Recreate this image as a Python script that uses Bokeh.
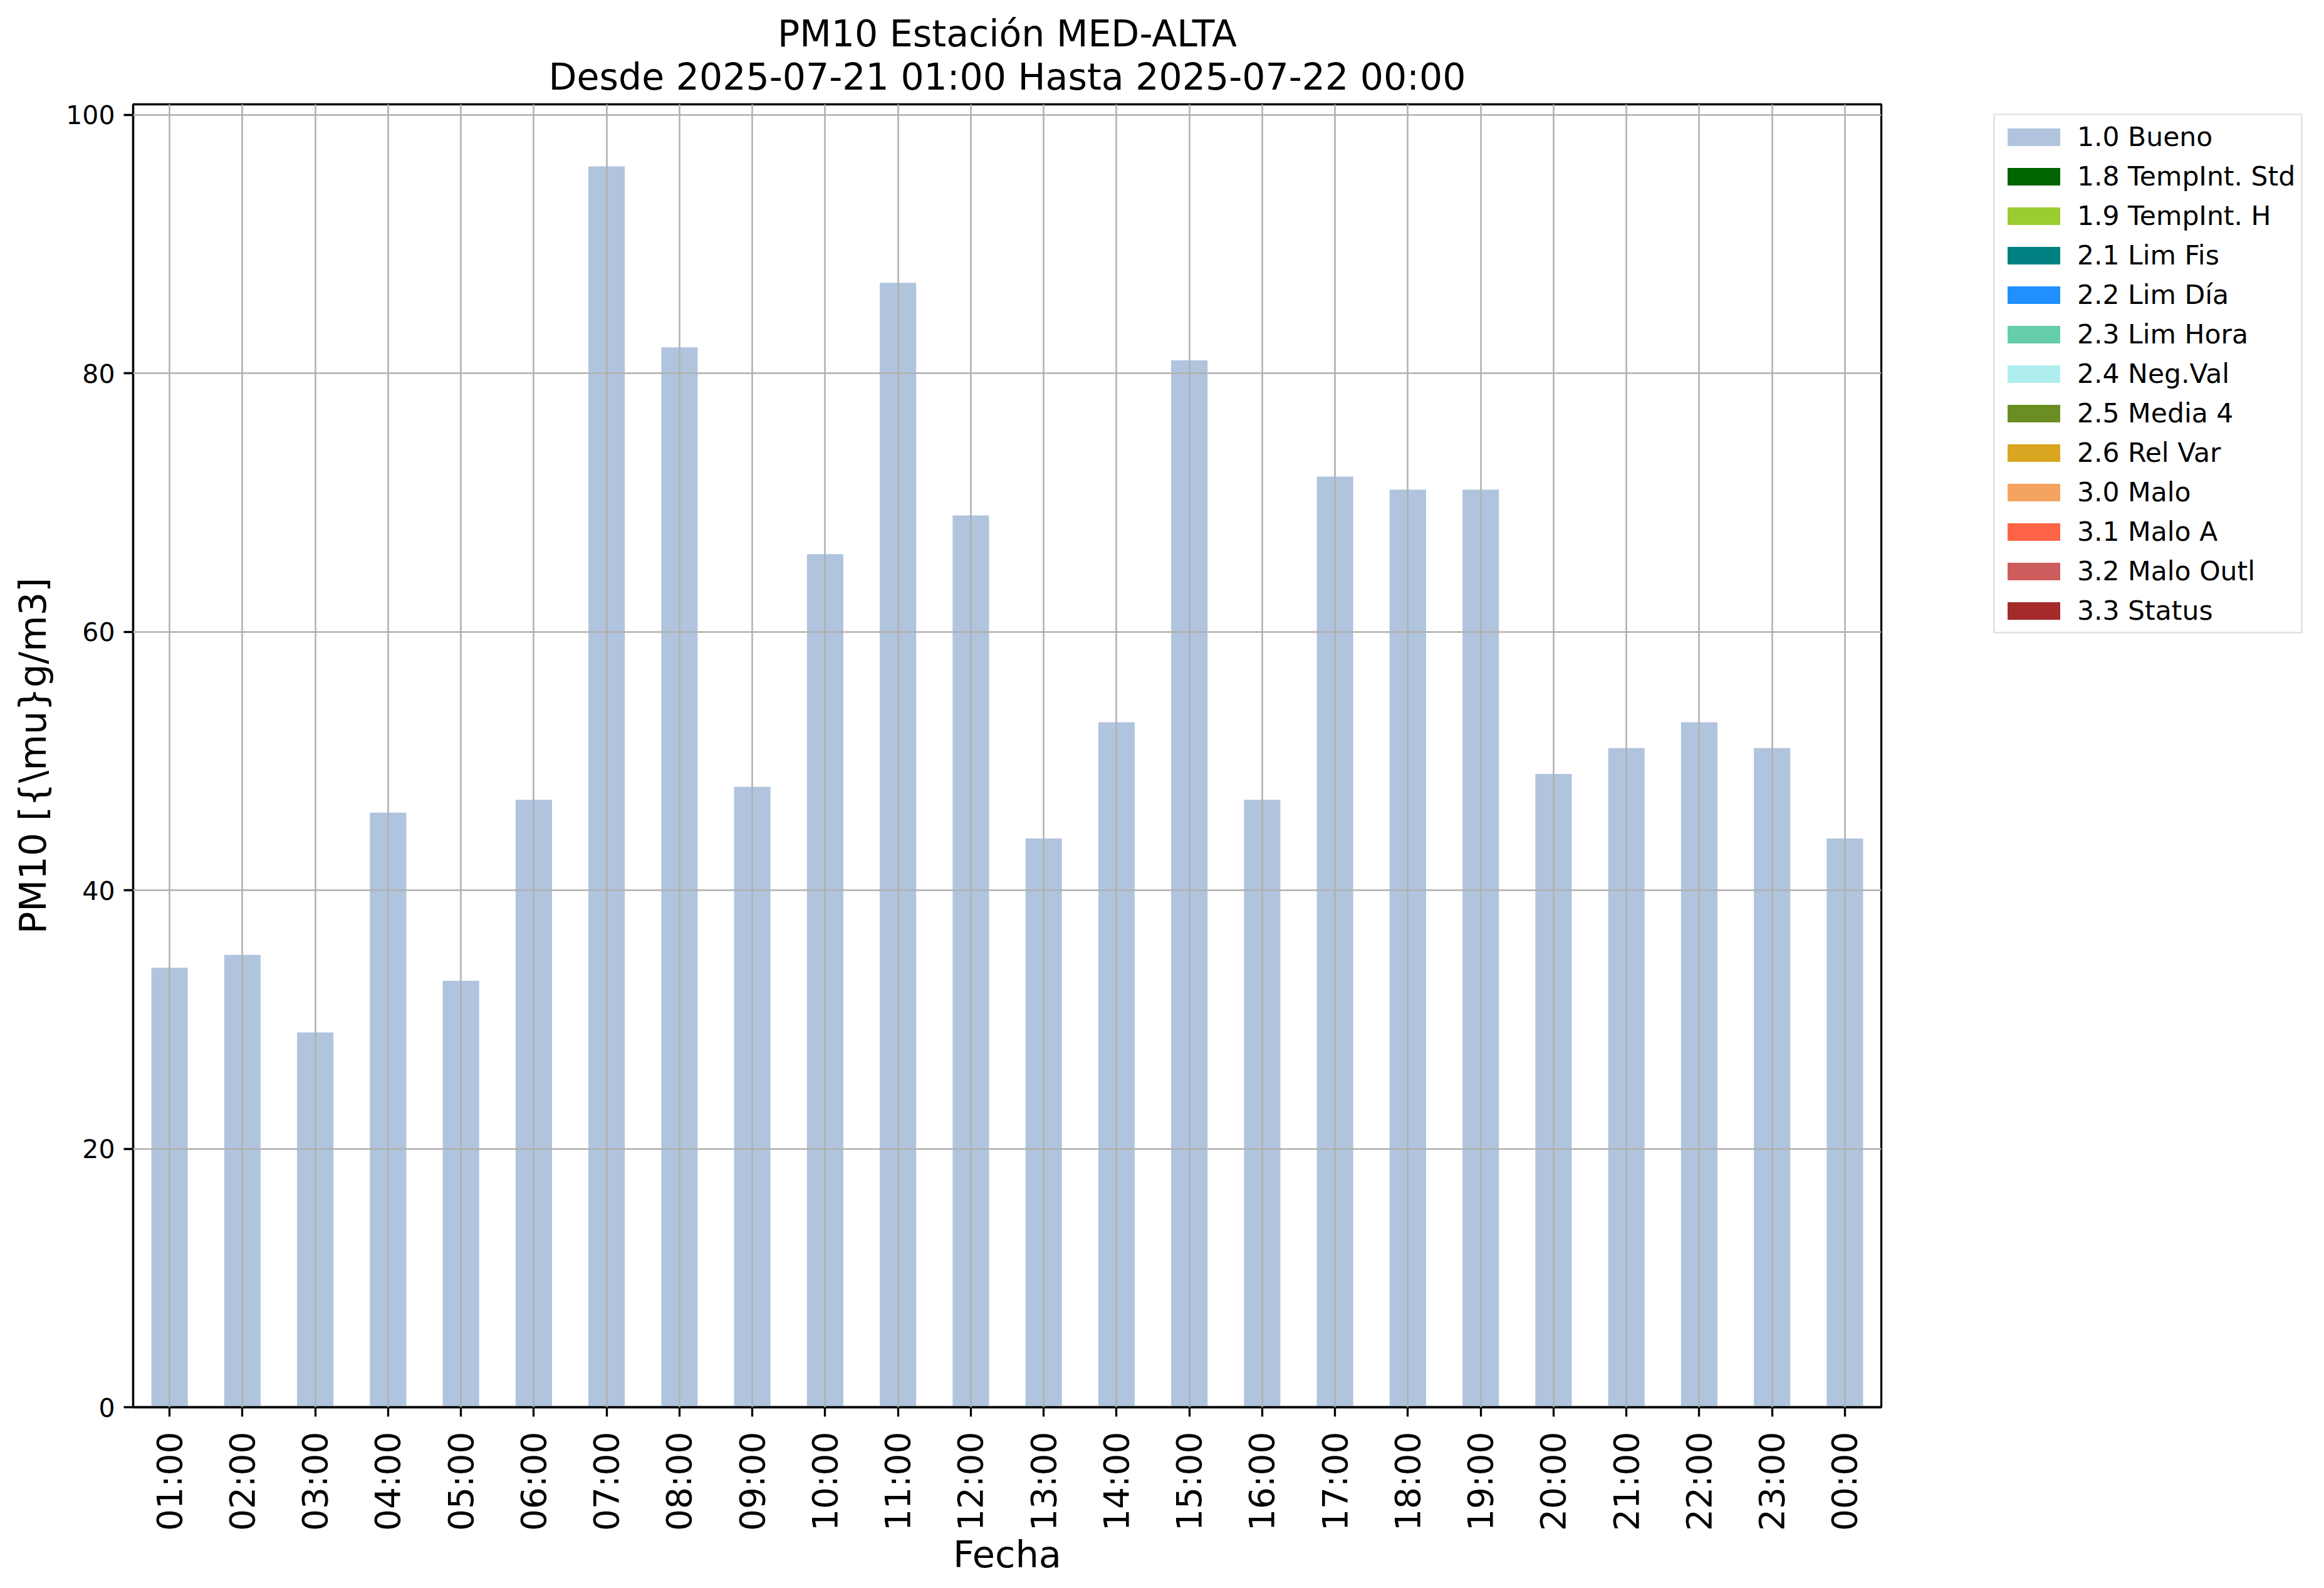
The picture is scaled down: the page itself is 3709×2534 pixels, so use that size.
from bokeh.plotting import figure
from bokeh.layouts import row
from bokeh.models import Range1d, FactorRange, FixedTicker, Legend, LegendItem, ColumnDataSource, Title
from bokeh.embed import file_html
from bokeh.resources import INLINE
import math

hours = ["01:00", "02:00", "03:00", "04:00", "05:00", "06:00", "07:00", "08:00",
         "09:00", "10:00", "11:00", "12:00", "13:00", "14:00", "15:00", "16:00",
         "17:00", "18:00", "19:00", "20:00", "21:00", "22:00", "23:00", "00:00"]
pm10_bueno = [34, 35, 29, 46, 33, 47, 96, 82, 48, 66, 87, 69,
              44, 53, 81, 47, 72, 71, 71, 49, 51, 53, 51, 44]
categories = ["1.0 Bueno", "1.8 TempInt. Std", "1.9 TempInt. H", "2.1 Lim Fis",
              "2.2 Lim Día", "2.3 Lim Hora", "2.4 Neg.Val", "2.5 Media 4",
              "2.6 Rel Var", "3.0 Malo", "3.1 Malo A", "3.2 Malo Outl", "3.3 Status"]
colors = ["#b0c4de", "#006400", "#9acd32", "#008080", "#1e90ff", "#66cdaa",
          "#afeeee", "#6b8e23", "#daa520", "#f4a460", "#ff6347", "#cd5c5c", "#a52a2a"]
y_ticks = [0, 20, 40, 60, 80, 100]
title_line1 = "PM10 Estación MED-ALTA"
title_line2 = "Desde 2025-07-21 01:00 Hasta 2025-07-22 00:00"

FONT = "DejaVu Sans"

data = {"hour": hours}
keys = []
for i, c in enumerate(categories):
    k = "s%d" % i
    keys.append(k)
    data[k] = pm10_bueno if i == 0 else [0] * len(hours)
source = ColumnDataSource(data)

# ---- main chart ----
p = figure(x_range=FactorRange(factors=hours, range_padding=0),
           y_range=Range1d(0, max(pm10_bueno) * 1.05),
           width=3012, height=2518, output_backend="svg", toolbar_location=None,
           title=None,
           min_border_left=212, min_border_right=10, min_border_top=166, min_border_bottom=273)
p.background_fill_color = "white"
p.border_fill_color = "white"
p.outline_line_color = "black"
p.outline_line_width = 3.3

for txt, so in ((title_line2, 19), (title_line1, -21)):
    t = Title(text=txt, align="center", text_font=FONT, text_font_size="58.5px",
              text_font_style="normal", text_color="black", standoff=so)
    p.add_layout(t, "above")

p.vbar_stack(keys, x="hour", width=0.5, color=colors, line_color=None, source=source)

for ax in (p.xaxis[0], p.yaxis[0]):
    ax.axis_line_color = "black"
    ax.axis_line_width = 3.3
    ax.major_tick_in = 0
    ax.major_tick_out = 15
    ax.major_tick_line_width = 3.3
    ax.major_tick_line_color = "black"
    ax.minor_tick_line_color = None
    ax.major_label_text_font = FONT
    ax.axis_label_text_font = FONT
    ax.axis_label_text_font_style = "normal"
    ax.major_label_text_color = "black"
    ax.axis_label_text_color = "black"

p.xaxis.major_label_orientation = math.pi / 2
p.xaxis.major_label_text_font_size = "55px"
p.xaxis.major_label_standoff = 24
p.xaxis.axis_label = "Fecha"
p.xaxis.axis_label_text_font_size = "59px"
p.xaxis.axis_label_standoff = 0

p.yaxis.ticker = FixedTicker(ticks=y_ticks)
p.yaxis.major_label_text_font_size = "41px"
p.yaxis.major_label_standoff = 14
p.yaxis.axis_label = "PM10 [{\\mu}g/m3]"
p.yaxis.axis_label_text_font_size = "59px"
p.yaxis.axis_label_standoff = 15

for g in (p.xgrid[0], p.ygrid[0]):
    g.grid_line_color = "#b0b0b0"
    g.grid_line_width = 2.5
    g.level = "guide"
p.ygrid.ticker = FixedTicker(ticks=y_ticks)

# ---- legend panel (swatches for the same series; its glyphs have zero width) ----
pl = figure(x_range=FactorRange(factors=hours), y_range=Range1d(-2000, -1999),
            width=681, height=2518, output_backend="svg", toolbar_location=None,
            x_axis_location=None, y_axis_location=None, title=None, min_border=0)
pl.outline_line_color = None
pl.grid.visible = False
pl.background_fill_color = "white"
pl.border_fill_color = "white"
leg_renderers = pl.vbar_stack(keys, x="hour", width=0, color=colors, line_color=None, source=source)

legend = Legend(items=[LegendItem(label=c, renderers=[r]) for c, r in zip(categories, leg_renderers)],
                location=(169, 1234), orientation="vertical")
legend.label_text_font = FONT
legend.label_text_font_size = "42.5px"
legend.label_text_color = "black"
legend.glyph_width = 105
legend.glyph_height = 35
legend.label_height = 50
legend.spacing = 13
legend.padding = 9
legend.label_standoff = 17
legend.margin = 0
legend.border_line_color = "#cccccc"
legend.border_line_width = 3.3
legend.background_fill_color = "white"
legend.background_fill_alpha = 0.8
pl.add_layout(legend, "center")

layout = row(p, pl, spacing=0)
open("out.html", "w").write(file_html(layout, INLINE))
